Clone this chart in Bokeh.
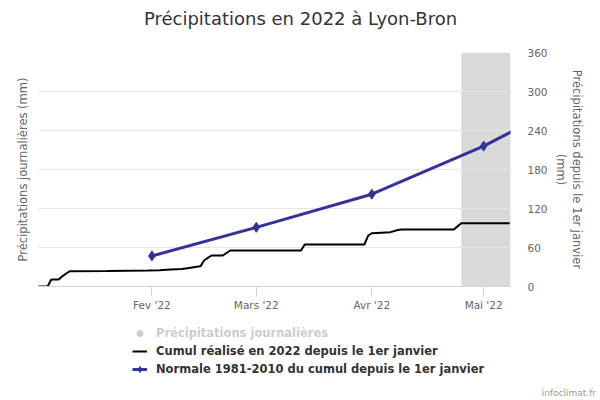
import pandas as pd
from bokeh.plotting import figure
from bokeh.layouts import column
from bokeh.models import (Range1d, FixedTicker, BoxAnnotation, Legend, LinearAxis,
                          LegendItem, ColumnDataSource, Label, Div)
from bokeh.embed import file_html
from bokeh.resources import INLINE

# ---- data ----
cumul_dates = ["2022-01-01", "2022-01-04", "2022-01-05", "2022-01-07", "2022-01-08",
               "2022-01-09", "2022-01-10", "2022-01-20", "2022-01-31", "2022-02-03",
               "2022-02-06", "2022-02-09", "2022-02-11", "2022-02-13", "2022-02-14",
               "2022-02-15", "2022-02-16", "2022-02-17", "2022-02-20", "2022-02-21",
               "2022-02-22", "2022-03-13", "2022-03-14", "2022-03-30", "2022-03-31",
               "2022-04-01", "2022-04-06", "2022-04-08", "2022-04-09", "2022-04-23",
               "2022-04-24", "2022-04-25", "2022-05-08"]
cumul_values = [0, 0, 10.8, 10.8, 16, 20, 23.6, 24.0, 24.6, 25.0,
                26, 27, 28.5, 30.5, 31, 40, 44, 47.7, 47.7, 51.5,
                55.4, 55.4, 64.6, 64.6, 78, 82, 83.6, 87, 87.7, 87.7,
                92.5, 97.4, 97.4]

normal_dates = ["2022-02-01", "2022-03-01", "2022-04-01", "2022-05-01", "2022-06-01"]
normal_values = [47, 91, 142, 216, 308]

tick_dates = ["2022-02-01", "2022-03-01", "2022-04-01", "2022-05-01"]
tick_labels = ["Fev '22", "Mars '22", "Avr '22", "Mai '22"]
y_ticks = [0, 60, 120, 180, 240, 300, 360]

x_start = "2022-01-01 13:30"
x_end = "2022-05-08 05:00"
band_start = "2022-04-25"

title_text = "Précipitations en 2022 à Lyon-Bron"
left_title = "Précipitations journalières (mm)"
right_title = "Précipitations depuis le 1er janvier\n(mm)"
legend_labels = ["Précipitations journalières",
                 "Cumul réalisé en 2022 depuis le 1er janvier",
                 "Normale 1981-2010 du cumul depuis le 1er janvier"]
credit_text = "infoclimat.fr"


def ms(s):
    return pd.Timestamp(s).value / 1e6


FONT = "DejaVu Sans"
W = 600
H_HEAD, H_MAIN, H_FOOT, H_CREDIT = 44, 270, 68, 18
NORMAL_COLOR = "#333399"
NAN = float("nan")


def blank_fig(h):
    f = figure(width=W, height=h, output_backend="svg", toolbar_location=None,
               x_axis_location=None, y_axis_location=None,
               x_range=Range1d(38, 510), y_range=Range1d(h, 0),
               min_border=0)
    f.outline_line_color = None
    f.grid.visible = False
    f.background_fill_color = "white"
    f.border_fill_color = "white"
    return f


# ---- header (title) ----
head = blank_fig(H_HEAD)
head.add_layout(Label(x=300, y=18, text=title_text, text_font=FONT,
                      text_font_size="18px", text_color="#333333",
                      text_align="center", text_baseline="middle"))

# ---- main chart ----
p = figure(width=W, height=H_MAIN, output_backend="svg", toolbar_location=None,
           x_axis_type="datetime", y_axis_location="right",
           x_range=Range1d(ms(x_start), ms(x_end)), y_range=Range1d(0, 360),
           min_border_left=38, min_border_right=90, min_border_top=8,
           min_border_bottom=28)
p.outline_line_color = None
p.background_fill_color = "white"
p.border_fill_color = "white"

band = BoxAnnotation(left=ms(band_start), fill_color="#dadada", fill_alpha=1.0,
                     line_color=None, level="image")
p.add_layout(band)

xa = p.xaxis[0]
xa.ticker = FixedTicker(ticks=[ms(d) for d in tick_dates])
xa.major_label_overrides = {ms(d): l for d, l in zip(tick_dates, tick_labels)}
xa.axis_line_color = "#ccd6eb"
xa.major_tick_line_color = "#ccd6eb"
xa.major_tick_out = 10
xa.major_tick_in = 0
xa.minor_tick_line_color = None
xa.major_label_standoff = 2
xa.major_label_text_font = FONT
xa.major_label_text_font_size = "10.5px"
xa.major_label_text_color = "#666666"

ya = p.yaxis[0]
ya.ticker = FixedTicker(ticks=y_ticks)
ya.axis_line_color = None
ya.major_tick_line_color = None
ya.major_tick_out = 0
ya.major_tick_in = 0
ya.minor_tick_line_color = None
ya.major_label_standoff = 17
ya.major_label_text_font = FONT
ya.major_label_text_font_size = "10.5px"
ya.major_label_text_color = "#666666"
ya.axis_label = right_title
ya.axis_label_standoff = 3
ya.axis_label_text_font = FONT
ya.axis_label_text_font_size = "11.5px"
ya.axis_label_text_font_style = "normal"
ya.axis_label_text_color = "#666666"

la = LinearAxis(axis_label=left_title, ticker=FixedTicker(ticks=[]),
                axis_line_color=None, major_tick_line_color=None,
                minor_tick_line_color=None, major_label_text_font_size="0px",
                major_label_standoff=0, major_tick_out=0, major_tick_in=0,
                axis_label_standoff=9, axis_label_text_font=FONT,
                axis_label_text_font_size="11.5px", axis_label_text_font_style="normal",
                axis_label_text_color="#666666")
p.add_layout(la, "left")

p.xgrid.visible = False
p.ygrid.ticker = FixedTicker(ticks=y_ticks)
p.ygrid.grid_line_color = "#e6e6e6"

cumul_src = ColumnDataSource(dict(x=[ms(d) for d in cumul_dates], y=cumul_values))
normal_src = ColumnDataSource(dict(x=[ms(d) for d in normal_dates], y=normal_values))

p.line("x", "y", source=cumul_src, line_color="black", line_width=2)
p.line("x", "y", source=normal_src, line_color=NORMAL_COLOR, line_width=3)
p.scatter("x", "y", source=normal_src, marker="diamond", size=10, color=NORMAL_COLOR)

# ---- footer (legend) ----
foot = blank_fig(H_FOOT)
daily_sw = foot.scatter(x=[NAN], y=[NAN], marker="circle", color="#333333")
daily_sw.visible = False
cum_sw = foot.line(x=[NAN], y=[NAN], line_color="black", line_width=2)
norm_sw = foot.line(x=[NAN], y=[NAN], line_color=NORMAL_COLOR, line_width=3)
norm_pt_sw = foot.scatter(x=[NAN], y=[NAN], marker="diamond", color=NORMAL_COLOR)

lg = Legend(items=[LegendItem(label=legend_labels[0], renderers=[daily_sw]),
                   LegendItem(label=legend_labels[1], renderers=[cum_sw]),
                   LegendItem(label=legend_labels[2], renderers=[norm_sw, norm_pt_sw])],
            location=(94, 5), click_policy="hide")
lg.label_text_font = FONT
lg.label_text_font_style = "bold"
lg.label_text_font_size = "11.5px"
lg.label_text_color = "#333333"
lg.glyph_width = 15
lg.glyph_height = 16
lg.label_height = 16
lg.label_standoff = 9
lg.spacing = 2
lg.padding = 0
lg.margin = 0
lg.border_line_color = None
lg.background_fill_alpha = 0
lg.inactive_fill_color = "white"
lg.inactive_fill_alpha = 0.75
foot.add_layout(lg)

credit = Div(text=credit_text, width=591, height=H_CREDIT,
             styles={"text-align": "right", "font-family": FONT, "font-size": "9px",
                     "color": "#999999", "line-height": "12px"})

layout = column(head, p, foot, credit, spacing=0)
open("out.html", "w").write(file_html(layout, INLINE))
